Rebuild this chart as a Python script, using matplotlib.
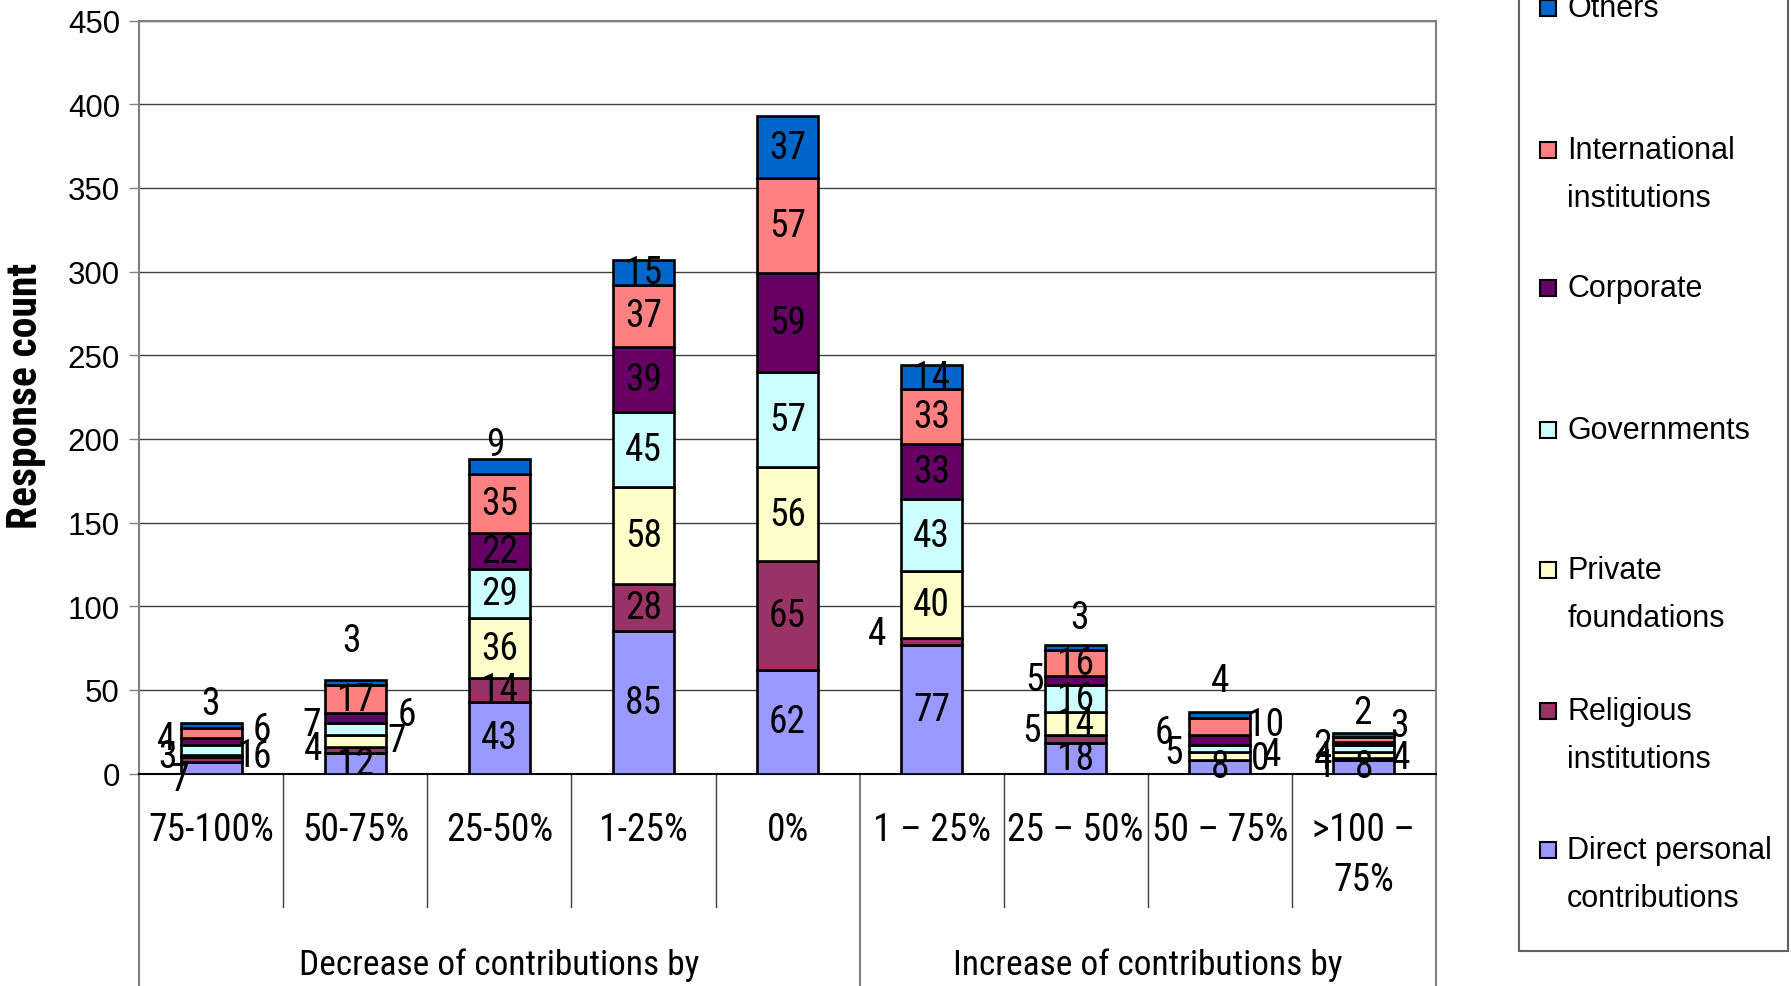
import matplotlib
matplotlib.use('Agg')
import matplotlib.pyplot as plt
from matplotlib.patches import Rectangle
import matplotlib.transforms as mtransforms

# ---------------- data ----------------
categories = ['75-100%', '50-75%', '25-50%', '1-25%', '0%',
              '1 – 25%', '25 – 50%', '50 – 75%', '>100 –\n75%']
groups = ['Decrease of contributions by', 'Increase of contributions by']
series_names = ['Direct personal\ncontributions', 'Religious\ninstitutions',
                'Private\nfoundations', 'Governments', 'Corporate',
                'International\ninstitutions', 'Others']
direct = [7, 12, 43, 85, 62, 77, 18, 8, 8]
religious = [3, 4, 14, 28, 65, 4, 5, 0, 1]
private = [1, 7, 36, 58, 56, 40, 14, 5, 4]
governments = [6, 7, 29, 45, 57, 43, 16, 4, 4]
corporate = [4, 6, 22, 39, 59, 33, 5, 6, 2]
international = [6, 17, 35, 37, 57, 33, 16, 10, 3]
others = [3, 3, 9, 15, 37, 14, 3, 4, 2]
yticks = [0, 50, 100, 150, 200, 250, 300, 350, 400, 450]

series = [direct, religious, private, governments, corporate, international, others]
colors = ['#9999FF', '#993366', '#FFFFCC', '#CCFFFF', '#660066', '#FF8080', '#0066CC']

# label offsets for small segments (reference px: dx right, dy down)
label_offsets = {
    (0, 6): (-1, -19.3), (0, 5): (44, -3), (0, 4): (-40, -3), (0, 3): (44, 5.5),
    (0, 2): (31, 0), (0, 1): (-38, -2.6), (0, 0): (-28, 10),
    (1, 6): (-3, -36.4), (1, 4): (45, -3.7), (1, 3): (-38, -4.5),
    (1, 2): (36, 0), (1, 1): (-37, -1),
    (2, 6): (-4, -19.4),
    (5, 1): (-48, -7),
    (6, 6): (3, -26), (6, 4): (-36, -1), (6, 1): (-39, -7.4),
    (7, 6): (0, -30), (7, 5): (40, -2), (7, 4): (-49, -7), (7, 3): (46, 5),
    (7, 2): (-40, -3), (7, 1): (35, -1),
    (8, 6): (-1, -19.8), (8, 5): (31, -12), (8, 4): (-36, 2), (8, 2): (-36, 2),
    (8, 3): (33, 8), (8, 1): (-33, 5.6),
}
PX2PT = (1791 / 1568) * 0.72

narrow = ['Roboto Condensed', 'Liberation Sans', 'DejaVu Sans']
regular = ['Liberation Sans', 'DejaVu Sans']

fig = plt.figure(figsize=(17.91, 9.87), dpi=100)
fig.patch.set_facecolor('white')
ax = fig.add_axes([122 / 1568, 1 - 678 / 864, (1257 - 122) / 1568, (678 - 19) / 864])

x = list(range(len(categories)))
bottom = [0] * len(categories)
for si, (vals, col) in enumerate(zip(series, colors)):
    ax.bar(x, vals, width=0.42, bottom=bottom, color=col, edgecolor='black',
           linewidth=1.9, zorder=3)
    for ci, v in enumerate(vals):
        yc = bottom[ci] + v / 2
        dx, dy = label_offsets.get((ci, si), (0, 0))
        ax.annotate(str(v), xy=(ci, yc), xytext=(dx * PX2PT, -dy * PX2PT),
                    textcoords='offset points', ha='center', va='center',
                    fontsize=27, family=narrow, color='black', zorder=5,
                    annotation_clip=False)
    bottom = [b + v for b, v in zip(bottom, vals)]

ax.set_xlim(-0.5, len(categories) - 0.5)
ax.set_ylim(0, 450)
ax.set_yticks(yticks)
ax.set_yticklabels([str(t) for t in yticks], fontsize=22.5, family=regular)
ax.tick_params(axis='y', length=7, width=1, color='#808080', pad=7)
ax.set_xticks([])
ax.yaxis.grid(True, color='#404040', linewidth=1, zorder=0)
ax.set_axisbelow(True)
for s in ['top', 'right', 'left']:
    ax.spines[s].set_color('#808080')
    ax.spines[s].set_linewidth(1.5)
ax.spines['bottom'].set_color('black')
ax.spines['bottom'].set_linewidth(1.5)

fig.text(22 / 1568, 1 - 347 / 864, 'Response count', rotation=90, ha='center',
         va='center', fontsize=30, fontweight='bold', family=narrow)

trans = mtransforms.blended_transform_factory(ax.transData, ax.transAxes)
# category dividers
for b in [0.5, 1.5, 2.5, 3.5, 5.5, 6.5, 7.5]:
    ax.plot([b, b], [0, -0.1775], transform=trans, color='#404040', lw=1, clip_on=False)
for b in [-0.5, 4.5, 8.5]:
    ax.plot([b, b], [0, -0.32], transform=trans, color='#808080', lw=1.5, clip_on=False)

# category labels
line_step = 44 / 659
for ci, lab in enumerate(categories):
    for li, line in enumerate(lab.split('\n')):
        ax.text(ci, -0.0744 - li * line_step, line, transform=trans, ha='center',
                va='center', fontsize=27, family=narrow)
ax.text(2, -0.2534, groups[0], transform=trans, ha='center', va='center',
        fontsize=25.5, family=narrow)
ax.text(6.5, -0.2534, groups[1], transform=trans, ha='center', va='center',
        fontsize=25.5, family=narrow)

# legend (manual)
fig.patches.append(Rectangle((1330 / 1568, 1 - 833 / 864), (1565 - 1330) / 1568, 1.0,
                             transform=fig.transFigure, facecolor='white',
                             edgecolor='#606060', lw=1.5))
legend_y = [745, 623, 500, 377, 253, 132, 8]
for name, col, yy in zip(series_names, colors, legend_y):
    fig.patches.append(Rectangle((1348 / 1568, 1 - (yy + 7) / 864), 14 / 1568, 14 / 864,
                                 transform=fig.transFigure, facecolor=col,
                                 edgecolor='black', lw=1.5))
    for li, line in enumerate(name.split('\n')):
        fig.text(1372 / 1568, 1 - (yy + li * 42) / 864, line, ha='left', va='center',
                 fontsize=22, family=regular)

fig.savefig('out.png', dpi=100, facecolor='white')
